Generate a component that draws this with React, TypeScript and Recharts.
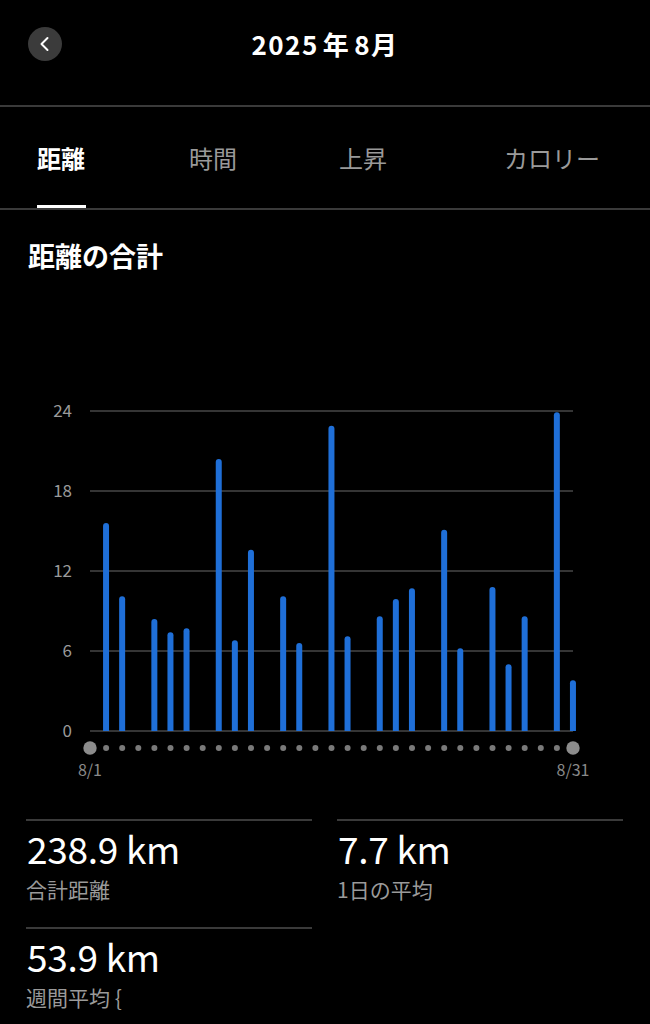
import { BarChart, Bar, XAxis, YAxis, CartesianGrid } from "recharts";

const days = [1, 2, 3, 4, 5, 6, 7, 8, 9, 10, 11, 12, 13, 14, 15, 16, 17, 18, 19, 20, 21, 22, 23, 24, 25, 26, 27, 28, 29, 30, 31];
const distances = [0, 15.6, 10.1, 0, 8.4, 7.4, 7.7, 0, 20.4, 6.8, 13.6, 0, 10.1, 6.6, 0, 22.9, 7.1, 0, 8.6, 9.9, 10.7, 0, 15.1, 6.2, 0, 10.8, 5.0, 8.6, 0, 23.9, 3.8];
const yTicks = [0, 6, 12, 18, 24];
const firstLabel = "8/1";
const lastLabel = "8/31";

const tabs = ["距離", "時間", "上昇", "カロリー"];
const tabX = [37, 189, 339, 504];

const stats = [
  { value: "238.9 km", label: "合計距離" },
  { value: "7.7 km", label: "1日の平均" },
  { value: "53.9 km", label: "週間平均 {" },
];

const font = '"Noto Sans CJK JP", "Noto Sans", sans-serif';
const chartData = days.map((d, i) => ({ day: d, km: distances[i] }));

function DayTick(props: any) {
  const { x, y, index } = props;
  const edge = index === 0 || index === days.length - 1;
  return (
    <g>
      <circle cx={x} cy={y + 17} r={edge ? 6.7 : 3} fill={edge ? "#8c8c8c" : "#7a7a7a"} />
      {edge && (
        <text x={x} y={y + 45} textAnchor="middle" fill="#8a8a8a" fontSize={16} fontFamily={font}>
          {index === 0 ? firstLabel : lastLabel}
        </text>
      )}
    </g>
  );
}

function Stat({ left, top, value, label }: { left: number; top: number; value: string; label: string }) {
  return (
    <div style={{ position: "absolute", left, top, width: 286 }}>
      <div style={{ height: 2, background: "#3a3a3a" }} />
      <div style={{ color: "#fff", fontSize: 37, lineHeight: "40px", marginTop: 7, marginLeft: 1, letterSpacing: -0.3 }}>{value}</div>
      <div style={{ color: "#9a9a9a", fontSize: 21, lineHeight: "26px", marginTop: 8, marginLeft: 0 }}>{label}</div>
    </div>
  );
}

export default function App() {
  return (
    <div style={{ position: "absolute", left: 0, top: 0, width: 650, height: 1024, background: "#000", fontFamily: font, overflow: "hidden" }}>
      {/* header */}
      <div style={{ position: "absolute", left: 28, top: 27, width: 34, height: 34, borderRadius: 17, background: "#3b3b3b" }}>
        <svg width={34} height={34}>
          <path d="M19.5 11 L13.5 17 L19.5 23" stroke="#fff" strokeWidth={2} fill="none" strokeLinecap="round" strokeLinejoin="round" />
        </svg>
      </div>
      <div style={{ position: "absolute", left: 0, top: 27, width: 650, textAlign: "center", color: "#fff", fontSize: 26, fontWeight: 700, lineHeight: "34px", letterSpacing: 1.5 }}>
        2025<span style={{ margin: "0 4px" }}>年</span>8月
      </div>
      <div style={{ position: "absolute", left: 0, top: 105, width: 650, height: 2, background: "#3a3a3a" }} />

      {/* tabs */}
      {tabs.map((t, i) => (
        <div
          key={t}
          style={{
            position: "absolute",
            left: tabX[i],
            top: 143,
            color: i === 0 ? "#fff" : "#9a9a9a",
            fontSize: 24,
            fontWeight: i === 0 ? 700 : 400,
            lineHeight: "30px",
          }}
        >
          {t}
        </div>
      ))}
      <div style={{ position: "absolute", left: 37, top: 205, width: 49, height: 3, background: "#fff" }} />
      <div style={{ position: "absolute", left: 0, top: 208, width: 650, height: 2, background: "#3a3a3a" }} />

      <div style={{ position: "absolute", left: 28, top: 238, color: "#fff", fontSize: 27, fontWeight: 700, lineHeight: "36px" }}>
        距離の合計
      </div>

      {/* chart */}
      <div style={{ position: "absolute", left: 0, top: 380 }}>
        <BarChart width={650} height={421} data={chartData} margin={{ top: 31, right: 77, left: 0, bottom: 10 }}>
          <CartesianGrid vertical={false} stroke="#474747" strokeWidth={1.5} />
          <XAxis
            dataKey="day"
            type="number"
            domain={[1, 31]}
            ticks={days}
            interval={0}
            axisLine={false}
            tickLine={false}
            tickSize={0}
            tickMargin={0}
            height={60}
            tick={<DayTick />}
          />
          <YAxis
            domain={[0, 24]}
            ticks={yTicks}
            width={90}
            axisLine={false}
            tickLine={false}
            tickSize={0}
            tickMargin={18}
            tick={{ fill: "#9a9a9a", fontSize: 17, fontFamily: font }}
          />
          <Bar dataKey="km" fill="#1f6fd8" barSize={6} radius={[3, 3, 0, 0]} isAnimationActive={false} />
        </BarChart>
      </div>

      {/* stats */}
      <Stat left={26} top={819} value={stats[0].value} label={stats[0].label} />
      <Stat left={337} top={819} value={stats[1].value} label={stats[1].label} />
      <Stat left={26} top={927} value={stats[2].value} label={stats[2].label} />
    </div>
  );
}
